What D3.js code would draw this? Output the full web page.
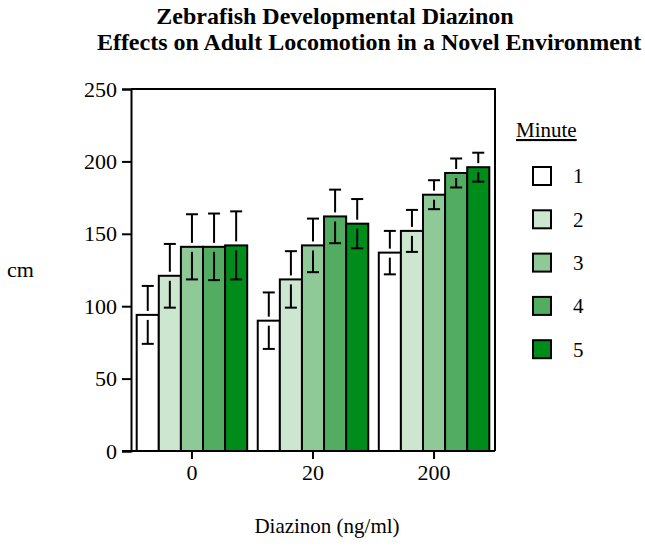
<!DOCTYPE html>
<html>
<head>
<meta charset="utf-8">
<script src="https://cdn.jsdelivr.net/npm/d3@7"></script>
<style>
  body { margin: 0; background: #fff; }
  svg { display: block; }
  text { font-family: "Liberation Serif", "Times New Roman", serif; fill: #000; }
</style>
</head>
<body>
<svg id="chart" width="645" height="546"></svg>
<script>
// ---- data ----
const groups = ["0", "20", "200"];
const minutes = ["1", "2", "3", "4", "5"];
const means = {
  "0":   [94, 121, 141, 141, 142],
  "20":  [90, 118.5, 142, 162, 157],
  "200": [137, 152, 177, 192, 196]
};
const errors = {
  "0":   [20, 22, 22.5, 23, 23.5],
  "20":  [19.5, 19.5, 18.5, 18.5, 17],
  "200": [15, 14.5, 10, 10, 10]
};
const yTicks = [0, 50, 100, 150, 200, 250];
const colors = ["#ffffff", "#cce6cf", "#90c998", "#52ad62", "#008c1a"];

// ---- layout ----
const svg = d3.select("#chart");
const L = 131, R = 495, T = 89, B = 451;

const x0 = d3.scaleBand().domain(groups).range([L, R]).paddingInner(0.087).paddingOuter(0.047);
const x1 = d3.scaleBand().domain(minutes).range([0, x0.bandwidth()]);
const y = d3.scaleLinear().domain([0, 250]).range([B, T]);
const color = d3.scaleOrdinal().domain(minutes).range(colors);

// title
svg.append("text").attr("x", 335).attr("y", 24).attr("text-anchor", "middle")
  .style("font-size", "24px").style("font-weight", "bold")
  .text("Zebrafish Developmental Diazinon");
svg.append("text").attr("x", 369).attr("y", 50).attr("text-anchor", "middle")
  .style("font-size", "24px").style("font-weight", "bold")
  .text("Effects on Adult Locomotion in a Novel Environment");

// bars
const rows = [];
groups.forEach(g => minutes.forEach((m, i) => rows.push({g, m, v: means[g][i], e: errors[g][i]})));

const gBars = svg.append("g");
gBars.selectAll("rect").data(rows).join("rect")
  .attr("x", d => x0(d.g) + x1(d.m))
  .attr("y", d => y(d.v))
  .attr("width", x1.bandwidth())
  .attr("height", d => y(0) - y(d.v))
  .attr("fill", d => color(d.m))
  .attr("stroke", "#000").attr("stroke-width", 2);

// error bars (split around bar top)
const capW = 12, gapUp = 4, gapDn = 5;
const eb = svg.append("g").attr("stroke", "#000").attr("stroke-width", 2).attr("fill", "none");
rows.forEach(d => {
  const cx = x0(d.g) + x1(d.m) + x1.bandwidth() / 2;
  const top = y(d.v);
  const hi = y(d.v + d.e), lo = y(d.v - d.e);
  eb.append("line").attr("x1", cx).attr("x2", cx).attr("y1", hi).attr("y2", top - gapUp);
  eb.append("line").attr("x1", cx - capW / 2).attr("x2", cx + capW / 2).attr("y1", hi).attr("y2", hi);
  eb.append("line").attr("x1", cx).attr("x2", cx).attr("y1", top + gapDn).attr("y2", lo);
  eb.append("line").attr("x1", cx - capW / 2).attr("x2", cx + capW / 2).attr("y1", lo).attr("y2", lo);
});

// frame (top, right)
svg.append("path").attr("d", `M${L},${T}H${R}V${B}`).attr("fill", "none")
  .attr("stroke", "#000").attr("stroke-width", 2);

// y axis
const yAxis = svg.append("g").attr("transform", `translate(${L},0)`)
  .call(d3.axisLeft(y).tickValues(yTicks).tickSize(9).tickPadding(5));
yAxis.select(".domain").attr("stroke-width", 2);
yAxis.selectAll(".tick line").attr("stroke-width", 2);
yAxis.selectAll("text").style("font-size", "22px").style("font-family", '"Liberation Serif", serif');

// x axis
const xAxis = svg.append("g").attr("transform", `translate(0,${B})`)
  .call(d3.axisBottom(x0).tickSize(8).tickPadding(5).tickSizeOuter(0));
xAxis.select(".domain").attr("d", `M${L - 9},0H${R}`).attr("stroke-width", 2);
xAxis.selectAll(".tick line").attr("stroke-width", 2);
xAxis.selectAll("text").style("font-size", "22px").style("font-family", '"Liberation Serif", serif');

// axis labels
svg.append("text").attr("x", 7).attr("y", 277).style("font-size", "22px").text("cm");
svg.append("text").attr("x", 327).attr("y", 533).attr("text-anchor", "middle")
  .style("font-size", "21px").text("Diazinon (ng/ml)");

// legend
svg.append("text").attr("x", 516).attr("y", 137).style("font-size", "21px")
  .style("text-decoration", "underline").text("Minute");
const leg = svg.append("g").selectAll("g").data(minutes).join("g")
  .attr("transform", (d, i) => `translate(533,${167 + i * 43.3})`);
leg.append("rect").attr("width", 18).attr("height", 18)
  .attr("fill", d => color(d)).attr("stroke", "#000").attr("stroke-width", 2);
leg.append("text").attr("x", 40).attr("y", 9).attr("dy", "0.35em")
  .style("font-size", "21px").text(d => d);
</script>
</body>
</html>
